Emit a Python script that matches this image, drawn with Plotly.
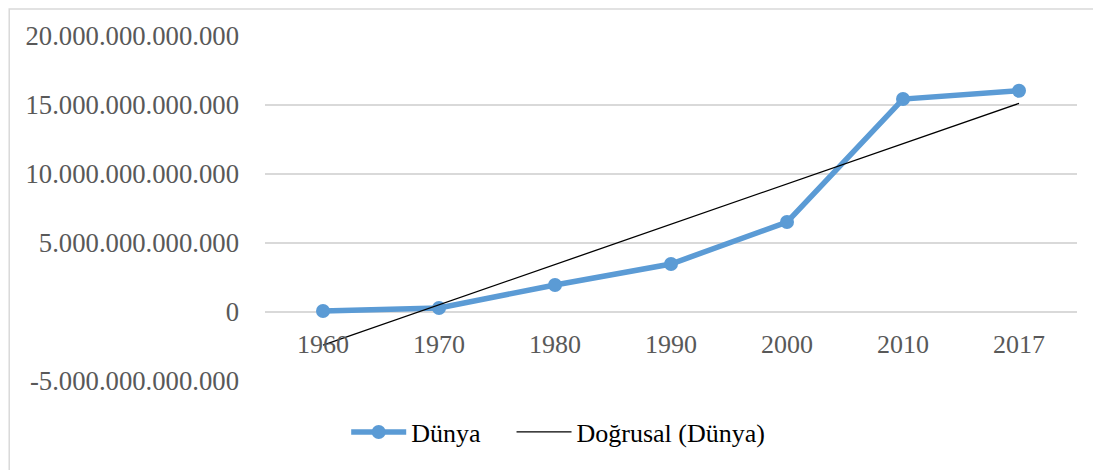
import plotly.graph_objects as go

years = ["1960", "1970", "1980", "1990", "2000", "2010", "2017"]
dunya = [0.07e12, 0.29e12, 1.96e12, 3.48e12, 6.52e12, 15.43e12, 16.03e12]

# linear trendline (Doğrusal) endpoints
trend_years = ["1960", "2017"]
trend_vals = [-2.4e12, 15.12e12]

y_ticks = [-5e12, 0, 5e12, 10e12, 15e12, 20e12]
y_labels = ["-5.000.000.000.000", "0", "5.000.000.000.000",
            "10.000.000.000.000", "15.000.000.000.000", "20.000.000.000.000"]

fig = go.Figure()

fig.add_trace(go.Scatter(
    x=years, y=dunya, name="Dünya\u00a0\u00a0\u00a0\u00a0",
    mode="lines+markers",
    line=dict(color="#5b9bd5", width=5.5),
    marker=dict(color="#5b9bd5", size=14),
))

fig.add_trace(go.Scatter(
    x=trend_years, y=trend_vals, name="Doğrusal (Dünya)",
    mode="lines",
    line=dict(color="black", width=1.3),
))

# chart frame (only left/top edges visible in the cropped picture)
fig.add_shape(type="rect", xref="paper", yref="paper",
              x0=-0.315, x1=1.3, y0=-0.6, y1=1.078,
              line=dict(color="#d9d9d9", width=1.5), layer="below")

# page has an 8px body margin, so the figure is 8px smaller
fig.update_layout(
    width=1093, height=462,
    margin=dict(l=257, r=24, t=28, b=89),
    paper_bgcolor="white", plot_bgcolor="white",
    font=dict(family="Liberation Serif", size=27, color="#595959"),
    showlegend=True,
    legend=dict(orientation="h", x=0.1, xanchor="left", y=-0.148, yanchor="middle",
                font=dict(family="Liberation Serif", size=26, color="black"),
                itemwidth=55),
    xaxis=dict(
        type="category", anchor="free", position=0.2,
        showline=False, showgrid=False, ticks="",
        tickfont=dict(size=26, color="#595959"),
        ticklabelstandoff=14,
        range=[-0.5, 6.5],
    ),
    yaxis=dict(
        range=[-5e12, 20e12], tickvals=y_ticks, ticktext=y_labels,
        showgrid=True, gridcolor="#d9d9d9", gridwidth=1.5,
        zeroline=False, showline=False, ticks="",
        tickfont=dict(size=26.7, color="#595959"),
        ticklabelstandoff=25,
    ),
)

fig.write_html("out.html")
